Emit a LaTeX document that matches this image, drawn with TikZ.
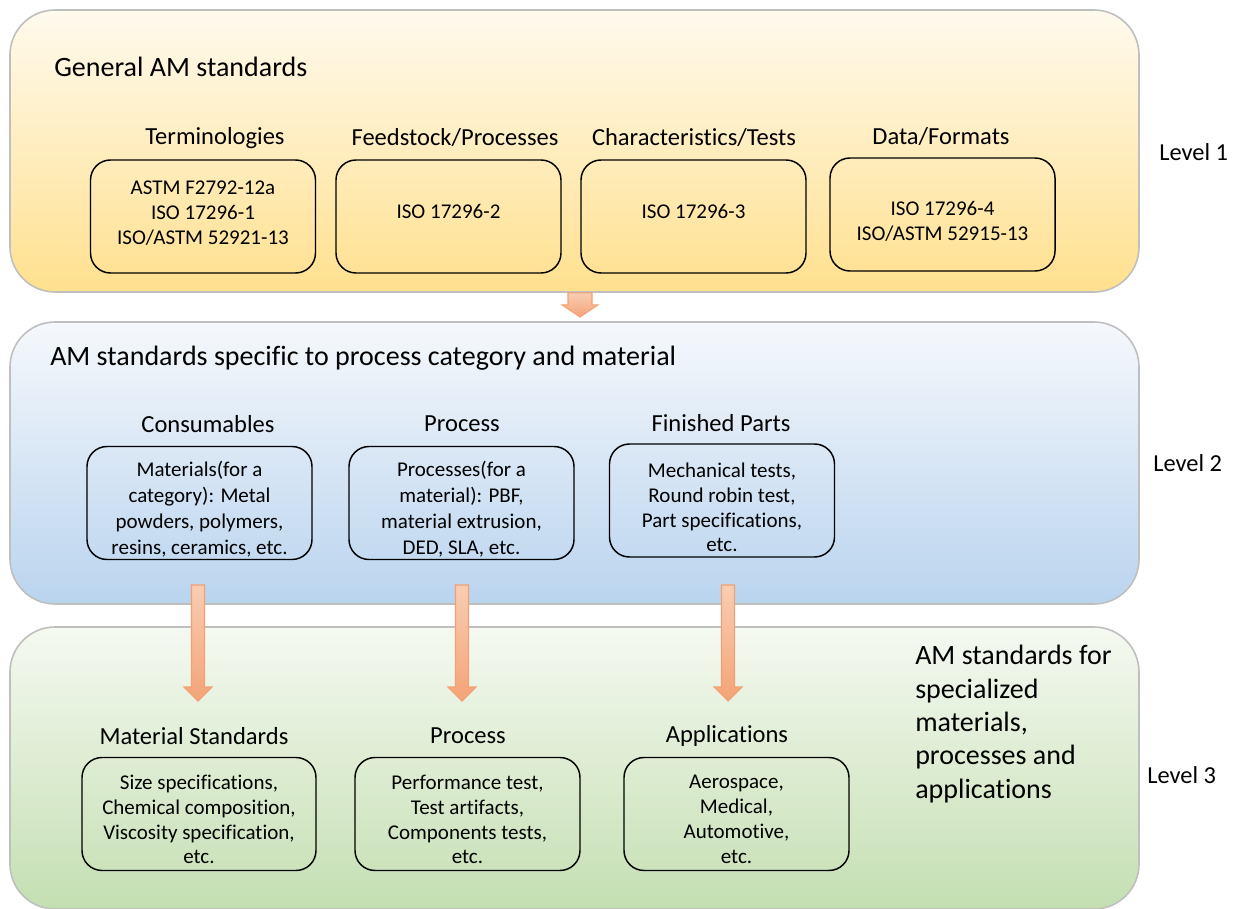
\documentclass[tikz,border=0pt]{standalone}
\usepackage{fontspec}
\setmainfont{Carlito}[Ligatures=NoCommon]
\newcommand\pxu{0.75pt}
\definecolor{edgegray}{HTML}{BFBFBF}
\definecolor{goldtop}{HTML}{FFFAEE}
\definecolor{goldbot}{HTML}{FFE08E}
\definecolor{bluetop}{HTML}{F5F8FC}
\definecolor{bluebot}{HTML}{BAD4EE}
\definecolor{greentop}{HTML}{F5F9F1}
\definecolor{greenbot}{HTML}{C4DFB2}
\definecolor{arrowtop}{HTML}{F9CDB3}
\definecolor{arrowbot}{HTML}{F4A377}
\definecolor{arrowedge}{HTML}{F2A173}
\begin{document}
\begin{tikzpicture}[x=0.75pt,y=-0.75pt,
  panel/.style={draw=edgegray, line width=1.2pt, rounded corners=45*\pxu,
    minimum width=1129*\pxu, minimum height=282*\pxu, inner sep=0pt},
  stdbox/.style={draw=black, line width=1.1pt, rounded corners=20*\pxu,
    minimum width=225*\pxu, minimum height=113*\pxu, inner sep=0pt},
  boxtext/.style={inner sep=0pt, align=center, font=\fontsize{15.75}{18.6}\selectfont},
  boxtextwide/.style={inner sep=0pt, align=center, font=\fontsize{15.75}{19.5}\selectfont},
  head/.style={font=\fontsize{18.4}{22}\selectfont, inner sep=0pt},
  title/.style={font=\fontsize{21}{25}\selectfont, inner sep=0pt, anchor=west},
  lvl/.style={font=\fontsize{18.3}{22}\selectfont, inner sep=0pt, anchor=west},
  blockarrow/.style={draw=arrowedge, line width=0.8pt, top color=arrowtop,
    bottom color=arrowbot, line join=miter}]
\useasboundingbox (0,0) rectangle (1241,909);

% level panels
\node[panel, top color=goldtop, bottom color=goldbot] (p1) at (574.5,151) {};
\node[panel, top color=bluetop, bottom color=bluebot] (p2) at (574.5,463) {};
\node[panel, top color=greentop, bottom color=greenbot] (p3) at (574.5,768) {};

% level 1
\node[title] (t1) at (54,67) {General AM standards};
\node[head] (h11) at (215,138) {Terminologies};
\node[head] (h12) at (455,138) {Feedstock/Processes};
\node[head] (h13) at (694,138) {Characteristics/Tests};
\node[head] (h14) at (941,137) {Data/Formats};
\node[stdbox] (b11) at (203,216.5) {};
\node[stdbox] (b12) at (448.5,216.5) {};
\node[stdbox] (b13) at (693.5,216.5) {};
\node[stdbox] (b14) at (942.5,214.5) {};
\node[boxtext] (b11t) at (203,213) {ASTM F2792-12a\\ISO 17296-1\\ISO/ASTM 52921-13};
\node[boxtext] (b12t) at (448.5,211) {ISO 17296-2};
\node[boxtext] (b13t) at (693.5,211) {ISO 17296-3};
\node[boxtext] (b14t) at (942.5,221.5) {ISO 17296-4\\ISO/ASTM 52915-13};
\node[lvl] (l1) at (1159,152) {Level 1};

% level 2
\node[title] (t2) at (50,358) {AM standards specific to process category and material};
\node[head] (h21) at (208,424) {Consumables};
\node[head] (h22) at (462,424) {Process};
\node[head] (h23) at (721,423) {Finished Parts};
\node[stdbox] (b21) at (199.5,503) {};
\node[stdbox] (b22) at (461.5,503) {};
\node[stdbox] (b23) at (722,500.5) {};
\node[boxtextwide] (b21t) at (199.5,509.5) {Materials(for a\\category): Metal\\powders, polymers,\\resins, ceramics, etc.};
\node[boxtextwide] (b22t) at (461.5,509.5) {Processes(for a\\material): PBF,\\material extrusion,\\DED, SLA, etc.};
\node[boxtext] (b23t) at (722,507.5) {Mechanical tests,\\Round robin test,\\Part specifications,\\etc.};
\node[lvl] (l2) at (1153,463) {Level 2};

% level 3
\node[head] (h31) at (194,736) {Material Standards};
\node[head] (h32) at (468,736) {Process};
\node[head] (h33) at (727,736) {Applications};
\node[stdbox, minimum width=234*\pxu] (b31) at (199,814) {};
\node[stdbox] (b32) at (467.5,814) {};
\node[stdbox] (b33) at (736.5,814) {};
\node[boxtext] (b31t) at (199,819.5) {Size specifications,\\Chemical composition,\\Viscosity specification,\\etc.};
\node[boxtext] (b32t) at (467.5,819.5) {Performance test,\\Test artifacts,\\Components tests,\\etc.};
\node[boxtext] (b33t) at (736.5,819.5) {Aerospace,\\Medical,\\Automotive,\\etc.};
\node[font=\fontsize{21}{25.1}\selectfont, inner sep=0pt, anchor=west, align=left] (t3)
  at (915,724) {AM standards for\\specialized\\materials,\\processes and\\applications};
\node[lvl] (l3) at (1147,775) {Level 3};

% block arrows between levels
\coordinate (a0) at (p1.south -| 580,0);
\coordinate (a0t) at (580,317);
\draw[blockarrow] ([xshift=-12*\pxu]a0) -- ([xshift=12*\pxu]a0)
  -- ([xshift=12*\pxu, yshift=-12*\pxu]a0) -- ([xshift=18*\pxu, yshift=-12*\pxu]a0)
  -- (a0t) -- ([xshift=-18*\pxu, yshift=-12*\pxu]a0) -- ([xshift=-12*\pxu, yshift=-12*\pxu]a0) -- cycle;

\foreach \n/\cx in {1/198, 2/462, 3/728}{
  \coordinate (s\n) at (\cx,585);
  \coordinate (e\n) at (\cx,701);
  \draw[blockarrow] ([xshift=-6.5*\pxu]s\n) -- ([xshift=6.5*\pxu]s\n)
    -- ([xshift=6.5*\pxu, yshift=14*\pxu]e\n) -- ([xshift=14*\pxu, yshift=14*\pxu]e\n)
    -- (e\n) -- ([xshift=-14*\pxu, yshift=14*\pxu]e\n) -- ([xshift=-6.5*\pxu, yshift=14*\pxu]e\n) -- cycle;
}
\end{tikzpicture}
\end{document}
